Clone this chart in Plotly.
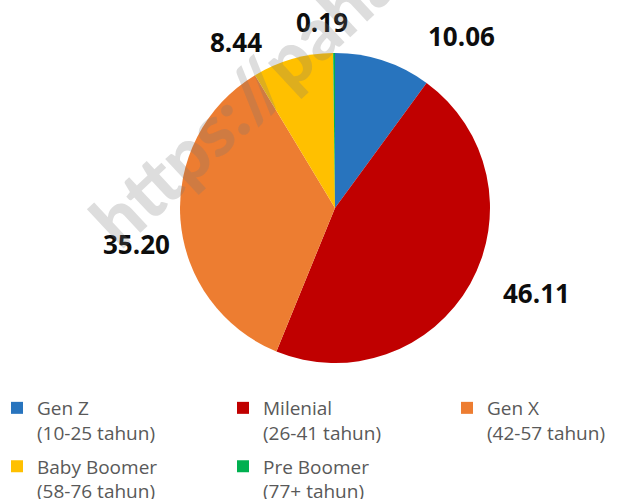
import math
import plotly.graph_objects as go

categories = ["Gen Z", "Milenial", "Gen X", "Baby Boomer", "Pre Boomer"]
age_ranges = ["(10-25 tahun)", "(26-41 tahun)", "(42-57 tahun)", "(58-76 tahun)", "(77+ tahun)"]
values = [10.06, 46.11, 35.20, 8.44, 0.19]
value_labels = ["10.06", "46.11", "35.20", "8.44", "0.19"]

colors = ["#2874BE", "#C00000", "#ED7D31", "#FFC000", "#00B050"]

W, H = 627, 499
cx, cy, R = 335, 208, 155

fig = go.Figure()
fig.add_trace(go.Pie(
    labels=categories, values=values, sort=False, direction="clockwise", rotation=0,
    marker=dict(colors=colors, line=dict(width=0)),
    textinfo="none", hoverinfo="label+value", showlegend=False,
    domain=dict(x=[(cx - R) / W, (cx + R) / W], y=[1 - (cy + R) / H, 1 - (cy - R) / H]),
))

# legend entries (three columns -> three legends)
legend_names = ["legend", "legend2", "legend3"]
for i, (cat, rng, col) in enumerate(zip(categories, age_ranges, colors)):
    fig.add_trace(go.Scatter(
        x=[None], y=[None], mode="markers", name=f"{cat}<br>{rng}",
        marker=dict(symbol="square", size=12, color=col),
        legend=legend_names[i % 3], legendgroup=cat, showlegend=True, hoverinfo="skip",
    ))

# label placement (style): angular nudge in degrees and radius factor
label_nudge = [18.3, -6.4, -5.9, -14.9, -3.7]
label_rad = [1.38, 1.41, 1.30, 1.25, 1.20]

total = sum(values)
cum = 0
annotations = []
for v, t, dn, rf in zip(values, value_labels, label_nudge, label_rad):
    mid = (cum + v / 2) / total * 360
    cum += v
    a = math.radians(mid + dn)
    px = cx + rf * R * math.sin(a)
    py = cy - rf * R * math.cos(a)
    annotations.append(dict(x=px / W, y=1 - py / H, xref="paper", yref="paper", text=f"<b>{t}</b>",
                            showarrow=False, xanchor="center", yanchor="middle",
                            font=dict(family="Open Sans, sans-serif", size=26, color="#0d0d0d")))

# watermark
wm_text = "https://pahamify.com"
wm_size = 72
wm_angle = 43
wm_len = 10.0 * wm_size
sx, sy = 88, 244
wx = sx + wm_len / 2 * math.cos(math.radians(wm_angle))
wy = sy - wm_len / 2 * math.sin(math.radians(wm_angle))
annotations.append(dict(x=wx / W, y=1 - wy / H, xref="paper", yref="paper", text=wm_text,
                        showarrow=False, textangle=-wm_angle, xanchor="center", yanchor="middle",
                        font=dict(family="Lato, sans-serif", size=wm_size, weight=900,
                                  color="rgba(120,120,120,0.25)")))

leg_common = dict(orientation="v", xanchor="left", yanchor="top", valign="top",
                  tracegroupgap=6, bgcolor="rgba(0,0,0,0)", borderwidth=0,
                  font=dict(family="Open Sans, sans-serif", size=19, color="#595959"),
                  itemclick=False, itemdoubleclick=False)
leg_y = 1 - 389 / H

fig.update_layout(
    width=W, height=H, margin=dict(l=0, r=0, t=0, b=0, autoexpand=False),
    paper_bgcolor="white", plot_bgcolor="white",
    xaxis=dict(visible=False), yaxis=dict(visible=False),
    legend=dict(x=-3 / W, y=leg_y, **leg_common),
    legend2=dict(x=223 / W, y=leg_y, **leg_common),
    legend3=dict(x=447 / W, y=leg_y, **leg_common),
    annotations=annotations,
)

fig.write_html("out.html", config={"displayModeBar": False},
               post_script="document.body.style.margin='0px';")
